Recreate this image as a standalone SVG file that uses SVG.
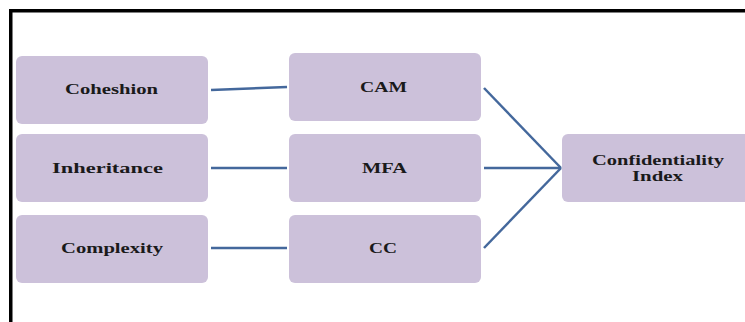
<svg xmlns="http://www.w3.org/2000/svg" width="745" height="322" viewBox="0 0 745 322">
<style>
.box{fill:#ccc1da;}
.lbl{font-family:"Liberation Serif","Times New Roman",serif;font-weight:bold;font-size:15px;fill:#1a1a1a;}
.con{stroke:#44689c;stroke-width:2.5;fill:none;}
</style>
<rect width="745" height="322" fill="#ffffff"/>
<g id="frame">
<rect x="9" y="9" width="736" height="3.5" fill="#000"/>
<rect x="9" y="9" width="3.5" height="313" fill="#000"/>
</g>
<g id="connectors">
<line class="con" x1="211" y1="90" x2="287" y2="87"/>
<line class="con" x1="211" y1="168" x2="287" y2="168"/>
<line class="con" x1="211" y1="248" x2="287" y2="248"/>
<line class="con" x1="484" y1="88" x2="561" y2="168"/>
<line class="con" x1="484" y1="168" x2="561" y2="168"/>
<line class="con" x1="484" y1="248" x2="561" y2="168"/>
</g>
<g id="coheshion"><rect class="box" x="16" y="56" width="192" height="68" rx="6"/><text class="lbl" x="65" y="94" textLength="93" lengthAdjust="spacingAndGlyphs">Coheshion</text></g>
<g id="inheritance"><rect class="box" x="16" y="134" width="192" height="68" rx="6"/><text class="lbl" x="52" y="173" textLength="111" lengthAdjust="spacingAndGlyphs">Inheritance</text></g>
<g id="complexity"><rect class="box" x="16" y="215" width="192" height="68" rx="6"/><text class="lbl" x="61" y="253" textLength="102" lengthAdjust="spacingAndGlyphs">Complexity</text></g>
<g id="cam"><rect class="box" x="289" y="53" width="192" height="68" rx="6"/><text class="lbl" x="360" y="92" textLength="47" lengthAdjust="spacingAndGlyphs">CAM</text></g>
<g id="mfa"><rect class="box" x="289" y="134" width="192" height="68" rx="6"/><text class="lbl" x="362" y="173" textLength="45" lengthAdjust="spacingAndGlyphs">MFA</text></g>
<g id="cc"><rect class="box" x="289" y="215" width="192" height="68" rx="6"/><text class="lbl" x="369" y="253" textLength="28" lengthAdjust="spacingAndGlyphs">CC</text></g>
<g id="confidentiality"><rect class="box" x="562" y="134" width="200" height="68" rx="6"/><text class="lbl" x="592" y="165" textLength="132" lengthAdjust="spacingAndGlyphs">Confidentiality</text><text class="lbl" x="632" y="181" textLength="51" lengthAdjust="spacingAndGlyphs">Index</text></g>
</svg>
